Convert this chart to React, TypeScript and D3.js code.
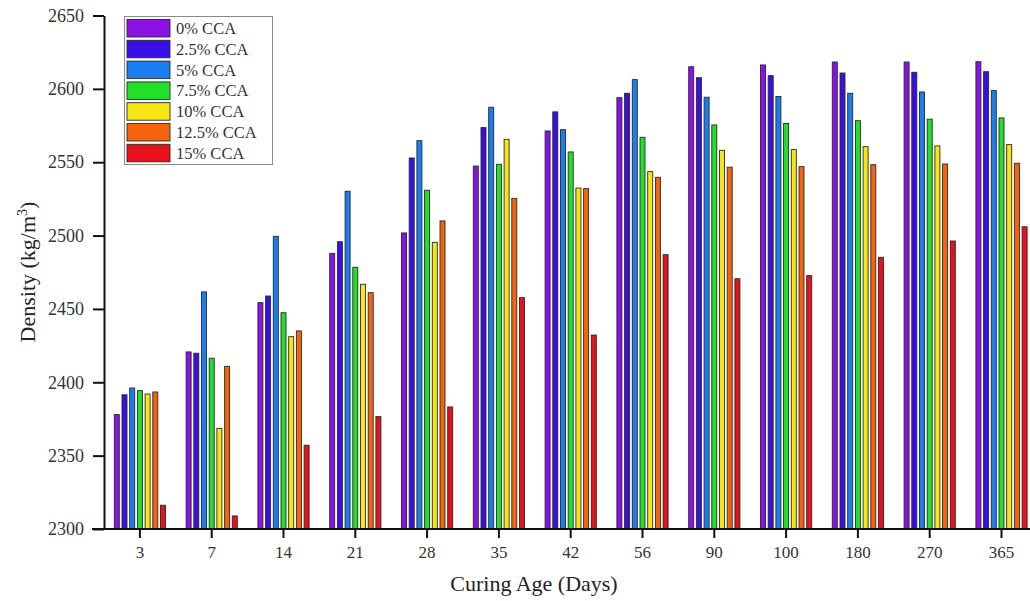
import React, { useEffect, useRef } from "react";
import * as d3 from "d3";

const ages = ["3", "7", "14", "21", "28", "35", "42", "56", "90", "100", "180", "270", "365"];
const mixes = ["0% CCA", "2.5% CCA", "5% CCA", "7.5% CCA", "10% CCA", "12.5% CCA", "15% CCA"];
const colors = ["#8a12e6", "#3a0ee6", "#1a7ef0", "#22e02a", "#f7e614", "#f5640c", "#e8101a"];

// density per curing age, one row per mix
const cca0 = [2378, 2420.7, 2454.3, 2487.9, 2501.8, 2547.4, 2571.3, 2594, 2615.1, 2616.3, 2618.3, 2618.3, 2618.5];
const cca25 = [2391.5, 2419.8, 2458.8, 2495.8, 2552.9, 2573.6, 2584.3, 2597, 2607.6, 2609, 2610.8, 2611.3, 2611.7];
const cca5 = [2396.1, 2461.6, 2499.5, 2530.2, 2564.7, 2587.5, 2572.2, 2606.3, 2594.3, 2594.8, 2597, 2597.9, 2598.8];
const cca75 = [2394.3, 2416.4, 2447.4, 2478.4, 2530.9, 2548.6, 2557, 2567, 2575.4, 2576.4, 2578.3, 2579.3, 2580.2];
const cca10 = [2392, 2368.6, 2431.1, 2466.8, 2495.4, 2565.6, 2532.4, 2543.6, 2558.1, 2558.6, 2560.6, 2561.1, 2562];
const cca125 = [2393.4, 2410.9, 2435, 2461.1, 2510, 2525.4, 2532, 2539.7, 2546.6, 2547, 2548.3, 2548.8, 2549.3];
const cca15 = [2316.2, 2308.9, 2357.1, 2376.6, 2383.2, 2457.7, 2432.2, 2487, 2470.6, 2472.7, 2485.2, 2496.3, 2506];

const series = [cca0, cca25, cca5, cca75, cca10, cca125, cca15];
const yTicks = [2300, 2350, 2400, 2450, 2500, 2550, 2600, 2650];

const width = 1030;
const height = 601;
const font = "'Liberation Serif', 'Times New Roman', serif";

const App = () => {
  const svgRef = useRef<SVGSVGElement>(null);

  useEffect(() => {
    const svg = d3.select(svgRef.current);
    svg.selectAll("*").remove();

    const left = 104;
    const bottom = 529;
    const top = 15.5;

    const x = d3
      .scaleBand()
      .domain(ages)
      .range([left, left + 13 * 71.8]);

    const xSub = d3
      .scaleBand()
      .domain(mixes)
      .range([-26.95, 26.95])
      .paddingInner(0.35)
      .paddingOuter(0.175);

    const y = d3.scaleLinear().domain([2300, 2650]).range([bottom, top]);

    // bars
    const rows = ages.flatMap((age, i) =>
      mixes.map((mix, j) => ({ age, mix, value: series[j][i], color: colors[j] }))
    );

    svg
      .append("g")
      .selectAll("rect")
      .data(rows)
      .enter()
      .append("rect")
      .attr("x", (d) => x(d.age)! + x.bandwidth() / 2 + xSub(d.mix)!)
      .attr("y", (d) => y(d.value))
      .attr("width", xSub.bandwidth())
      .attr("height", (d) => bottom - y(d.value))
      .attr("fill", (d) => d.color)
      .attr("stroke", "#2a2a2a")
      .attr("stroke-width", 0.9);

    // x axis
    const xAxis = svg
      .append("g")
      .attr("transform", `translate(0,${bottom})`)
      .call(d3.axisBottom(x).tickSize(9).tickSizeOuter(0).tickPadding(8));
    xAxis.select(".domain").remove();
    xAxis.selectAll("line").attr("stroke", "#111").attr("stroke-width", 2);
    xAxis
      .selectAll("text")
      .style("font-family", font)
      .style("font-size", "17px")
      .attr("fill", "#333");
    svg
      .append("line")
      .attr("x1", left - 12)
      .attr("x2", width)
      .attr("y1", bottom)
      .attr("y2", bottom)
      .attr("stroke", "#111")
      .attr("stroke-width", 2);

    // y axis
    const yAxis = svg
      .append("g")
      .attr("transform", `translate(${left},0)`)
      .call(
        d3
          .axisLeft(y)
          .tickValues(yTicks)
          .tickFormat(d3.format("d"))
          .tickSize(11)
          .tickSizeOuter(0)
          .tickPadding(9)
      );
    yAxis.select(".domain").attr("stroke", "#111").attr("stroke-width", 2);
    yAxis.selectAll("line").attr("stroke", "#111").attr("stroke-width", 2);
    yAxis
      .selectAll("text")
      .style("font-family", font)
      .style("font-size", "18px")
      .attr("fill", "#333");

    // titles
    svg
      .append("text")
      .attr("x", 534)
      .attr("y", 591)
      .attr("text-anchor", "middle")
      .style("font-family", font)
      .style("font-size", "22px")
      .attr("fill", "#222")
      .text("Curing Age (Days)");

    const yLabel = svg
      .append("text")
      .attr("transform", "rotate(-90)")
      .attr("x", -272)
      .attr("y", 35)
      .attr("text-anchor", "middle")
      .style("font-family", font)
      .style("font-size", "22px")
      .attr("fill", "#222");
    yLabel.append("tspan").text("Density (kg/m");
    yLabel.append("tspan").attr("dy", -8).style("font-size", "14px").text("3");
    yLabel.append("tspan").attr("dy", 8).text(")");

    // legend
    const legend = svg.append("g");
    legend
      .append("rect")
      .attr("x", 124.5)
      .attr("y", 16.5)
      .attr("width", 148)
      .attr("height", 148)
      .attr("fill", "white")
      .attr("stroke", "#8a8a8a")
      .attr("stroke-width", 1);

    const items = legend
      .selectAll(".item")
      .data(mixes)
      .enter()
      .append("g")
      .attr("transform", (_d, i) => `translate(127,${19.5 + i * 20.8})`);
    items
      .append("rect")
      .attr("width", 43)
      .attr("height", 17.5)
      .attr("fill", (_d, i) => colors[i])
      .attr("stroke", "#2a2a2a")
      .attr("stroke-width", 0.9);
    items
      .append("text")
      .attr("x", 49)
      .attr("y", 14.5)
      .style("font-family", font)
      .style("font-size", "16.5px")
      .attr("fill", "#333")
      .text((d) => d);
  }, []);

  return (
    <svg
      ref={svgRef}
      width={width}
      height={height}
      style={{ position: "absolute", left: 0, top: 0, background: "white" }}
    ></svg>
  );
};

export default App;
